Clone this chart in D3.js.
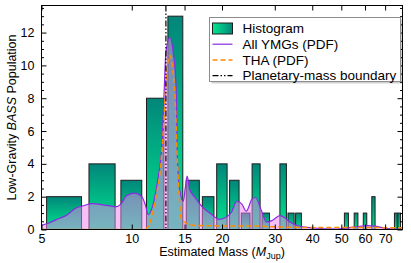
<!DOCTYPE html>
<meta charset="utf-8">
<style>
    html, body { margin: 0; background: #fff; }
    text { font-family: "Liberation Sans", Arial, sans-serif; fill: #000; }
    .tick text { font-size: 12.5px; }
    .axis path, .axis line { stroke: #000; stroke-width: 1px; }
    .pdf-all { fill: none; stroke: #8a2be2; stroke-width: 1.2px; }
    .pdf-tha { fill: none; stroke: #ff8c00; stroke-width: 1.5px; stroke-dasharray: 5, 3; }
    .boundary { stroke: #000; stroke-width: 1.2px; stroke-dasharray: 6, 2, 1.5, 2, 1.5, 2; }
</style>
<body>
<script src="https://d3js.org/d3.v7.min.js"></script>
<script>
    // histogram: bin centres (M_Jup, bins 2 wide) and counts
    var binCenters = [6, 8, 10, 12, 14, 16, 18, 20, 22, 24, 26, 28, 30, 32, 34, 36, 38, 40, 42, 44, 46, 48,
        50, 52, 54, 56, 58, 60, 62, 64, 66, 68, 70, 72, 74, 76, 78];
    var counts = [2, 4, 3, 8, 13, 3, 2, 4, 3, 1, 4, 1, 0, 4, 1, 1, 0, 0, 0, 0, 0, 0,
        0, 1, 0, 1, 0, 1, 0, 2, 0, 0, 0, 0, 0, 1, 1];

    // summed PDF of all YMGs
    var allMass = [5.0, 5.3, 5.6, 6.1, 6.5, 6.9, 7.4, 7.9, 8.4, 8.8, 9.2, 9.6, 10.2, 10.8, 11.1, 11.35, 11.7,
        12.0, 12.2, 12.6, 12.8, 13.0, 13.4, 13.75, 14.05, 14.2, 14.45, 14.85, 15.1, 15.3, 15.6, 16.3, 17.1,
        18.5, 19.5, 20.5, 21.5, 22.4, 23.3, 24.1, 25.2, 25.9, 27.0, 28.2, 29.4, 31.2, 32.4, 33.6, 36.4,
        40.3, 44.3, 48.4, 55, 60.9, 64.9, 71.4, 80];
    var allPdf = [0.25, 0.4, 0.6, 0.9, 1.3, 1.45, 1.58, 1.52, 1.45, 1.38, 1.55, 2.05, 2.22, 2.0, 1.5, 0.9, 1.35,
        2.2, 3.0, 5.1, 8.0, 10.8, 11.7, 10.8, 8.8, 4.4, 2.4, 1.72, 2.6, 3.25, 2.45, 1.93, 1.42,
        0.91, 0.62, 0.72, 1.05, 1.72, 1.55, 1.12, 1.86, 1.95, 1.2, 0.45, 0.55, 0.85, 0.72, 0.47, 0.2,
        0.1, 0.04, 0.03, 0.14, 0.24, 0.2, 0.06, 0.02];

    // summed PDF of THA members
    var thaMass = [5, 11.0, 11.3, 11.6, 12.1, 12.4, 12.75, 13.0, 13.2, 13.4, 13.75, 13.95, 14.2, 14.45, 14.6,
        15.0, 15.6, 16.3, 20, 25, 30, 40, 60, 80];
    var thaPdf = [0, 0, 0.15, 0.6, 2.2, 3.3, 6.1, 8.8, 10.2, 10.6, 9.5, 8.0, 4.2, 1.6, 0.7,
        0.45, 0.3, 0.25, 0.22, 0.22, 0.16, 0.12, 0.12, 0.1];

    var boundaryMass = 13;
    var xTicks = [5, 10, 15, 20, 30, 40, 50, 60, 70];

    var width = 411, height = 263;
    var margin = { top: 5.5, right: 8.5, bottom: 33.5, left: 41.5 };

    var x = d3.scaleLog().domain([5, 80]).range([margin.left, width - margin.right]);
    var y = d3.scaleLinear().domain([0, 13.65]).range([height - margin.bottom, margin.top]);

    var svg = d3.select("body").append("svg")
        .attr("width", width)
        .attr("height", height);

    var defs = svg.append("defs");
    var grad = defs.append("linearGradient").attr("id", "barGrad")
        .attr("x1", 0).attr("y1", 0).attr("x2", 0).attr("y2", 1);
    grad.append("stop").attr("offset", "0%").attr("stop-color", "#02867a");
    grad.append("stop").attr("offset", "100%").attr("stop-color", "#00e890");
    var gradH = defs.append("linearGradient").attr("id", "legGrad")
        .attr("x1", 0).attr("y1", 0).attr("x2", 1).attr("y2", 0);
    gradH.append("stop").attr("offset", "0%").attr("stop-color", "#00e890");
    gradH.append("stop").attr("offset", "100%").attr("stop-color", "#02867a");
    defs.append("clipPath").attr("id", "plotClip").append("rect")
        .attr("x", margin.left).attr("y", margin.top)
        .attr("width", width - margin.left - margin.right)
        .attr("height", height - margin.top - margin.bottom);

    var plot = svg.append("g").attr("clip-path", "url(#plotClip)");

    var bars = binCenters.map(function (c, i) { return { c: c, n: counts[i] }; })
        .filter(function (d) { return d.n > 0; });

    plot.selectAll("rect.bar")
        .data(bars)
        .enter().append("rect")
        .attr("class", "bar")
        .attr("x", function (d) { return x(d.c - 0.8); })
        .attr("width", function (d) { return x(d.c + 0.8) - x(d.c - 0.8); })
        .attr("y", function (d) { return y(d.n); })
        .attr("height", function (d) { return y(0) - y(d.n); })
        .attr("fill", "url(#barGrad)")
        .attr("stroke", "#1e1e1e")
        .attr("stroke-width", 1);

    var allData = allMass.map(function (m, i) { return [m, allPdf[i]]; });
    var thaData = thaMass.map(function (m, i) { return [m, thaPdf[i]]; });

    var area = d3.area()
        .x(function (d) { return x(d[0]); })
        .y0(y(0))
        .y1(function (d) { return y(d[1]); })
        .curve(d3.curveMonotoneX);
    var line = d3.line()
        .x(function (d) { return x(d[0]); })
        .y(function (d) { return y(d[1]); })
        .curve(d3.curveMonotoneX);

    plot.append("path").datum(allData)
        .attr("d", area)
        .attr("fill", "violet")
        .attr("fill-opacity", 0.5);
    plot.append("path").datum(allData).attr("class", "pdf-all").attr("d", line);
    plot.append("path").datum(thaData).attr("class", "pdf-tha").attr("d", line);

    plot.append("line").attr("class", "boundary")
        .attr("x1", x(boundaryMass)).attr("x2", x(boundaryMass))
        .attr("y1", y.range()[1]).attr("y2", y.range()[0]);

    // axes, ticks pointing inward on all four sides
    var yMajor = d3.range(0, 13, 2);
    var yMinor = d3.range(0, 13.65, 0.5).filter(function (v) { return v % 2 !== 0; });

    svg.append("g").attr("class", "axis")
        .attr("transform", "translate(0," + y(0) + ")")
        .call(d3.axisBottom(x).tickValues(xTicks).tickFormat(d3.format("d"))
            .tickSizeInner(-5).tickSizeOuter(0).tickPadding(5));
    svg.append("g").attr("class", "axis")
        .attr("transform", "translate(0," + margin.top + ")")
        .call(d3.axisTop(x).tickValues(xTicks).tickFormat("").tickSizeInner(-5).tickSizeOuter(0));

    svg.append("g").attr("class", "axis")
        .attr("transform", "translate(" + margin.left + ",0)")
        .call(d3.axisLeft(y).tickValues(yMajor).tickFormat(d3.format("d"))
            .tickSizeInner(-5).tickSizeOuter(0).tickPadding(7));
    svg.append("g").attr("class", "axis")
        .attr("transform", "translate(" + margin.left + ",0)")
        .call(d3.axisLeft(y).tickValues(yMinor).tickFormat("").tickSizeInner(-2.5).tickSizeOuter(0));
    svg.append("g").attr("class", "axis")
        .attr("transform", "translate(" + (width - margin.right) + ",0)")
        .call(d3.axisRight(y).tickValues(yMajor).tickFormat("").tickSizeInner(-5).tickSizeOuter(0));
    svg.append("g").attr("class", "axis")
        .attr("transform", "translate(" + (width - margin.right) + ",0)")
        .call(d3.axisRight(y).tickValues(yMinor).tickFormat("").tickSizeInner(-2.5).tickSizeOuter(0));

    svg.selectAll(".axis .domain").remove();
    svg.append("rect")
        .attr("x", margin.left).attr("y", margin.top)
        .attr("width", width - margin.left - margin.right)
        .attr("height", height - margin.top - margin.bottom)
        .attr("fill", "none").attr("stroke", "#000");

    // axis titles
    var xl = svg.append("text")
        .attr("x", (margin.left + width - margin.right) / 2)
        .attr("y", 256)
        .attr("text-anchor", "middle")
        .style("font-size", "12.5px");
    xl.append("tspan").text("Estimated Mass (");
    xl.append("tspan").style("font-style", "italic").text("M");
    xl.append("tspan").attr("dy", 3).style("font-size", "9px").text("Jup");
    xl.append("tspan").attr("dy", -3).text(")");

    var yl = svg.append("text")
        .attr("transform", "translate(15.5," + ((margin.top + height - margin.bottom) / 2) + ") rotate(-90)")
        .attr("text-anchor", "middle")
        .style("font-size", "12.5px");
    yl.append("tspan").text("Low-Gravity ");
    yl.append("tspan").style("font-style", "italic").text("BASS");
    yl.append("tspan").text(" Population");

    // legend
    var leg = svg.append("g").attr("transform", "translate(209.5,17.5)");
    leg.append("rect").attr("x", 2).attr("y", 2).attr("width", 191).attr("height", 64)
        .attr("fill", "#000").attr("fill-opacity", 0.18);
    leg.append("rect").attr("width", 191).attr("height", 64)
        .attr("fill", "#fff").attr("stroke", "#8c8c8c");

    var items = ["Histogram", "All YMGs (PDF)", "THA (PDF)", "Planetary-mass boundary"];
    items.forEach(function (label, i) {
        var cy = 11 + i * 15.7;
        if (i === 0) {
            leg.append("rect").attr("x", 3).attr("y", cy - 5.5).attr("width", 20).attr("height", 11)
                .attr("fill", "url(#legGrad)").attr("stroke", "#1e1e1e");
        } else {
            leg.append("line").attr("class", ["", "pdf-all", "pdf-tha", "boundary"][i])
                .attr("x1", 3).attr("x2", 23).attr("y1", cy).attr("y2", cy);
        }
        leg.append("text").attr("x", 33).attr("y", cy + 4.6)
            .style("font-size", "13.5px").text(label);
    });
</script>
</body>
</html>
